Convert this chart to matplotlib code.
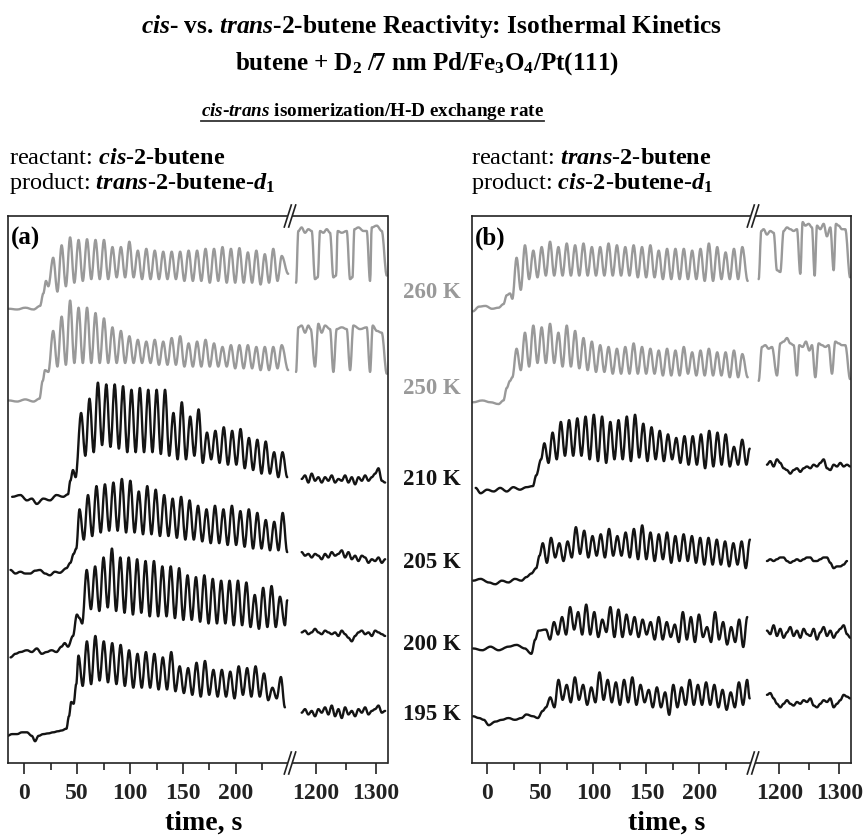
import matplotlib
matplotlib.use("Agg")
import matplotlib.pyplot as plt
from matplotlib.lines import Line2D
from matplotlib.patches import Polygon, PathPatch
from matplotlib.path import Path

plt.rcParams['font.family'] = 'Liberation Serif'
plt.rcParams['mathtext.fontset'] = 'custom'
plt.rcParams['mathtext.rm'] = 'Liberation Serif:bold'
plt.rcParams['mathtext.it'] = 'Liberation Serif:italic:bold'
plt.rcParams['mathtext.bf'] = 'Liberation Serif:bold'

# ---------------- panel (a): reactant cis-2-butene ----------------
# signal in arbitrary units, traces stacked; time in s
a260_pre_t = [-14.6, -6.8, 0.9, 8.7, 14.9, 18.0, 20.5, 22.7]
a260_pre_v = [1272, 1270, 1275, 1270, 1280, 1315, 1350, 1335]
a260_osc = [27.3, 8.0]   # first peak time, period
a260_peak = [1415, 1450, 1472, 1465, 1467, 1465, 1465, 1445, 1445, 1460, 1435, 1440, 1435, 1432,
             1432, 1432, 1435, 1435, 1440, 1440, 1445, 1440, 1442, 1430, 1435, 1425, 1440, 1420]
a260_trough = [1320, 1335, 1345, 1350, 1355, 1355, 1355, 1360, 1360, 1360, 1355, 1355, 1355, 1355,
               1355, 1350, 1350, 1350, 1345, 1350, 1345, 1345, 1345, 1345, 1340, 1345, 1350]
a260_tail_t = [249.4]
a260_tail_v = [1370]
a260_post_t = [1166.7, 1170.6, 1176.0, 1181.7, 1187.2, 1192.8, 1198.3, 1202.8, 1206.7, 1212.2,
               1217.8, 1223.3, 1228.9, 1233.3, 1236.1, 1242.8, 1251.1, 1256.7, 1260.6, 1263.9,
               1270.6, 1278.9, 1284.4, 1290.0, 1292.8, 1301.1, 1309.4, 1317.8]
a260_post_v = [1345, 1490, 1500, 1485, 1495, 1490, 1355, 1360, 1490, 1485, 1495, 1485, 1360, 1365,
               1490, 1485, 1490, 1355, 1360, 1495, 1500, 1490, 1490, 1350, 1500, 1505, 1490, 1365]

a250_pre_t = [-14.6, -6.8, 0.9, 8.7, 14.3, 17.4, 19.6, 22.7]
a250_pre_v = [1015, 1012, 1018, 1012, 1020, 1070, 1100, 1095]
a250_osc = [27.3, 8.0]
a250_peak = [1210, 1250, 1295, 1275, 1275, 1260, 1245, 1220, 1210, 1195, 1185, 1180, 1185, 1180,
             1190, 1195, 1175, 1180, 1185, 1175, 1165, 1170, 1170, 1170, 1165, 1165, 1165, 1170]
a250_trough = [1110, 1115, 1120, 1120, 1120, 1120, 1120, 1120, 1120, 1120, 1120, 1120, 1115, 1115,
               1115, 1110, 1110, 1110, 1110, 1110, 1110, 1105, 1105, 1105, 1100, 1100, 1105]
a250_tail_t = [249.4]
a250_tail_v = [1100]
a250_post_t = [1166.7, 1170.6, 1176.0, 1181.7, 1187.2, 1191.1, 1198.3, 1203.9, 1209.4, 1215.0,
               1223.3, 1228.9, 1234.4, 1242.8, 1251.1, 1256.7, 1262.2, 1273.3, 1284.4, 1290.0,
               1294.4, 1301.1, 1309.4, 1317.8]
a250_post_v = [1095, 1220, 1225, 1205, 1225, 1215, 1110, 1230, 1205, 1225, 1215, 1095, 1215, 1220,
               1215, 1100, 1225, 1215, 1220, 1095, 1225, 1210, 1205, 1090]

a210_pre_t = [-11.5, -3.7, 2.5, 7.1, 11.8, 18.0, 24.2, 30.4, 36.7, 41.3, 43.5, 46.0, 48.5]
a210_pre_v = [745, 750, 735, 740, 725, 740, 735, 750, 745, 752, 790, 820, 800]
a210_osc = [53.7, 7.93]
a210_peak = [980, 1020, 1065, 1060, 1060, 1055, 1045, 1050, 1045, 1045, 1045, 980, 1010, 970, 990,
             925, 930, 940, 930, 935, 910, 905, 900, 870, 870]
a210_trough = [860, 870, 890, 885, 880, 870, 870, 870, 870, 865, 860, 850, 850, 860, 840, 850, 840,
               835, 835, 825, 820, 810, 810, 800]
a210_tail_t = [248.5]
a210_tail_v = [800]
a210_post_v = [795, 805, 785, 810, 790, 800, 785, 800, 790, 805, 785, 795, 790, 805, 785, 800, 780,
               800, 790, 805, 790, 800, 810, 825, 790, 785]

a205_pre_t = [-13.0, -8.4, -3.7, 0.9, 5.6, 10.2, 14.9, 19.6, 24.2, 28.9, 33.5, 39.8, 43.5, 46.6, 49.1]
a205_pre_v = [540, 530, 535, 530, 530, 538, 540, 530, 525, 535, 532, 545, 560, 585, 600]
a205_osc = [52.2, 8.0]
a205_peak = [710, 750, 775, 780, 785, 795, 790, 760, 775, 765, 750, 740, 745, 735, 720, 710, 720,
             710, 720, 705, 710, 700, 680, 675, 700]
a205_trough = [625, 635, 645, 650, 650, 645, 645, 640, 640, 635, 635, 630, 625, 625, 620, 615, 615,
               610, 610, 605, 600, 600, 595, 595]
a205_tail_t = [248.5]
a205_tail_v = [590]
a205_post_v = [590, 580, 585, 575, 585, 580, 570, 585, 575, 590, 580, 585, 595, 575, 590, 570, 580,
               565, 580, 575, 560, 570, 565, 575, 560, 570]

a200_pre_t = [-13.0, -8.4, -3.7, 2.5, 7.1, 11.8, 16.5, 21.1, 25.8, 30.4, 35.1, 38.2, 41.3, 46.0,
              49.7, 52.2, 54.7]
a200_pre_v = [295, 305, 310, 315, 310, 320, 305, 310, 315, 310, 325, 335, 325, 355, 415, 405, 390]
a200_osc = [59.0, 7.94]
a200_peak = [540, 550, 575, 600, 575, 575, 570, 565, 565, 550, 550, 545, 525, 520, 525, 515, 510,
             510, 510, 505, 470, 490, 495, 465]
a200_trough = [430, 425, 435, 425, 420, 415, 420, 410, 410, 410, 405, 400, 400, 395, 390, 390, 390,
               385, 385, 380, 375, 380, 380]
a200_tail_t = [246.3, 248.5]
a200_tail_v = [385, 455]
a200_post_v = [365, 370, 360, 365, 375, 365, 360, 370, 365, 360, 365, 355, 370, 360, 350, 340, 355,
               365, 370, 360, 365, 355, 370, 365, 360, 355]

a195_pre_t = [-16.2, -11.5, -6.8, -2.2, 2.5, 7.1, 10.2, 13.4, 18.0, 22.7, 27.3, 32.0, 35.1, 39.8,
              42.2, 44.4, 46.6, 49.1]
a195_pre_v = [75, 80, 80, 85, 85, 75, 60, 75, 80, 82, 85, 88, 90, 95, 130, 170, 165, 220]
a195_osc = [51.2, 7.97]
a195_peak = [300, 340, 355, 340, 335, 330, 315, 305, 310, 305, 295, 310, 270, 265, 280, 285, 260,
             260, 255, 270, 265, 270, 250, 210, 240]
a195_trough = [215, 220, 230, 225, 220, 215, 210, 210, 210, 205, 205, 200, 195, 190, 185, 190, 185,
               185, 180, 190, 185, 185, 175, 180]
a195_tail_t = [246.3]
a195_tail_v = [155]
a195_post_v = [140, 150, 135, 145, 130, 150, 140, 155, 135, 160, 130, 150, 125, 155, 135, 145, 130,
               150, 140, 155, 135, 145, 150, 160, 140, 145]

# ---------------- panel (b): reactant trans-2-butene ----------------
b260_pre_t = [-13.6, -8.0, -1.9, 4.3, 10.5, 15.1, 18.2, 21.3, 23.5]
b260_pre_v = [1265, 1278, 1280, 1272, 1275, 1285, 1310, 1315, 1300]
b260_osc = [27.5, 7.89]
b260_peak = [1415, 1450, 1435, 1445, 1460, 1445, 1455, 1450, 1455, 1445, 1445, 1455, 1450, 1445,
             1450, 1445, 1450, 1435, 1440, 1440, 1440, 1435, 1440, 1455, 1445, 1430, 1440, 1445]
b260_trough = [1325, 1355, 1360, 1365, 1365, 1365, 1365, 1365, 1365, 1365, 1365, 1365, 1365, 1365,
               1360, 1360, 1360, 1355, 1355, 1355, 1355, 1355, 1350, 1350, 1355, 1355, 1355]
b260_tail_t = [245.6]
b260_tail_v = [1350]
b260_post_t = [1165.6, 1170.0, 1173.9, 1179.4, 1185.0, 1190.6, 1196.1, 1201.7, 1207.2, 1212.8,
               1218.3, 1223.9, 1229.4, 1235.0, 1238.9, 1243.3, 1248.9, 1254.4, 1258.9, 1262.8,
               1268.3, 1273.9, 1279.4, 1285.0, 1290.6, 1294.4, 1298.9, 1304.4, 1310.0, 1318.0]
b260_post_v = [1355, 1490, 1495, 1480, 1490, 1485, 1380, 1375, 1490, 1500, 1495, 1490, 1495, 1370,
               1515, 1505, 1510, 1500, 1365, 1505, 1495, 1510, 1475, 1500, 1380, 1510, 1505, 1495,
               1495, 1360]

b250_pre_t = [-13.6, -4.9, 2.8, 10.5, 15.1, 18.2, 21.3, 23.5]
b250_pre_v = [1010, 1015, 1010, 1005, 1015, 1050, 1070, 1080]
b250_osc = [27.5, 7.89]
b250_peak = [1160, 1205, 1225, 1220, 1230, 1205, 1225, 1210, 1190, 1180, 1170, 1165, 1160, 1165,
             1175, 1165, 1160, 1155, 1160, 1155, 1165, 1150, 1155, 1160, 1150, 1150, 1155, 1145]
b250_trough = [1100, 1110, 1120, 1120, 1120, 1110, 1110, 1105, 1100, 1095, 1095, 1090, 1090, 1090,
               1090, 1090, 1090, 1085, 1085, 1085, 1090, 1085, 1085, 1085, 1085, 1080, 1080]
b250_tail_t = [245.6]
b250_tail_v = [1080]
b250_post_t = [1165.6, 1171.1, 1176.7, 1182.2, 1187.8, 1196.1, 1201.7, 1207.2, 1212.8, 1218.3,
               1223.9, 1229.4, 1233.3, 1238.9, 1244.4, 1250.0, 1254.4, 1260.0, 1265.6, 1271.1,
               1276.7, 1282.2, 1287.8, 1293.3, 1298.9, 1304.4, 1310.0, 1318.0]
b250_post_v = [1070, 1165, 1170, 1160, 1165, 1085, 1175, 1180, 1190, 1175, 1170, 1085, 1170, 1165,
               1180, 1155, 1170, 1080, 1175, 1170, 1165, 1170, 1090, 1180, 1175, 1170, 1170, 1075]

b210_pre_t = [-11.1, -6.5, -0.3, 5.9, 12.0, 18.2, 24.4, 30.6, 36.7, 42.9, 46.0, 50.6]
b210_pre_v = [770, 755, 765, 760, 770, 760, 772, 765, 772, 775, 805, 850]
b210_osc = [53.7, 7.78]
b210_peak = [895, 925, 955, 960, 965, 970, 975, 970, 955, 960, 970, 975, 950, 940, 930, 920, 910,
             915, 915, 920, 930, 925, 920, 885, 905]
b210_trough = [840, 850, 860, 860, 860, 850, 845, 840, 850, 850, 845, 855, 845, 850, 845, 850, 840,
               835, 835, 825, 830, 835, 830, 835]
b210_tail_t = [244.4, 247.5]
b210_tail_v = [835, 880]
b210_post_v = [835, 845, 830, 850, 840, 825, 820, 810, 820, 825, 815, 825, 830, 825, 835, 830, 840,
               850, 825, 820, 835, 830, 840, 830, 835, 830]

b205_pre_t = [-13.6, -6.5, 1.2, 7.4, 13.6, 19.8, 25.9, 32.1, 36.7, 41.4, 46.0, 49.1]
b205_pre_v = [510, 515, 505, 500, 510, 505, 515, 510, 520, 530, 545, 580]
b205_osc = [52.2, 7.82]
b205_peak = [615, 630, 615, 620, 660, 650, 635, 640, 655, 635, 645, 655, 665, 645, 640, 645, 635,
             640, 635, 630, 630, 625, 620, 615, 620, 625]
b205_trough = [560, 575, 565, 575, 585, 575, 580, 575, 580, 580, 575, 570, 570, 565, 570, 560, 565,
               565, 560, 555, 555, 555, 550, 555, 545]
b205_tail_t = []
b205_tail_v = []
b205_post_v = [565, 570, 565, 570, 575, 575, 565, 560, 565, 570, 565, 570, 575, 575, 565, 565, 570,
               575, 575, 560, 545, 550, 550, 555, 565]

b200_pre_t = [-13.6, -4.9, 2.8, 10.5, 19.8, 27.5, 35.2, 41.4, 45.1, 48.1]
b200_pre_v = [320, 315, 325, 315, 325, 330, 320, 305, 345, 370]
b200_osc = [55.2, 7.6]
b200_peak = [373, 394, 408, 436, 422, 443, 422, 401, 436, 429, 415, 408, 401, 394, 408, 394, 387,
             422, 408, 415, 380, 422, 394, 380, 401, 408]
b200_trough = [345, 359, 359, 373, 359, 359, 352, 366, 352, 352, 359, 352, 359, 345, 345, 352, 338,
               345, 338, 352, 338, 345, 331, 338, 324]
b200_tail_t = []
b200_tail_v = []
b200_post_v = [370, 360, 385, 355, 375, 350, 365, 380, 355, 370, 350, 375, 360, 355, 375, 345, 365,
               380, 355, 370, 350, 365, 375, 385, 360, 350]

b195_pre_t = [-13.6, -8.0, -3.4, 1.2, 7.4, 13.6, 19.8, 25.9, 32.1, 36.7, 42.9, 47.5, 52.2, 55.2]
b195_pre_v = [130, 125, 120, 105, 115, 120, 125, 120, 125, 135, 130, 125, 145, 155]
b195_osc = [59.3, 7.74]
b195_peak = [183, 232, 218, 239, 218, 211, 253, 232, 225, 232, 239, 218, 204, 211, 197, 218, 211,
             232, 218, 225, 218, 204, 197, 225, 232]
b195_trough = [155, 176, 169, 176, 162, 169, 176, 169, 162, 169, 162, 169, 155, 155, 134, 155, 162,
               162, 162, 162, 155, 148, 155, 162]
b195_tail_t = [247.5]
b195_tail_v = [180]
b195_post_v = [190, 195, 180, 165, 155, 165, 175, 165, 160, 170, 165, 175, 170, 180, 160, 155, 165,
               175, 170, 180, 155, 165, 175, 190, 185, 180]

temps = ['260 K', '250 K', '210 K', '205 K', '200 K', '195 K']
post_grid = [[1176.1, 5.56], [1179.4, 5.56]]  # noisy long-time segments: start, step

GRAY = '#999999'
BLACK = '#141414'

# table of traces built from the arrays above
panel_a = [
    (a260_pre_t, a260_pre_v, a260_osc, a260_peak, a260_trough, a260_tail_t, a260_tail_v, a260_post_t, a260_post_v, GRAY),
    (a250_pre_t, a250_pre_v, a250_osc, a250_peak, a250_trough, a250_tail_t, a250_tail_v, a250_post_t, a250_post_v, GRAY),
    (a210_pre_t, a210_pre_v, a210_osc, a210_peak, a210_trough, a210_tail_t, a210_tail_v, None, a210_post_v, BLACK),
    (a205_pre_t, a205_pre_v, a205_osc, a205_peak, a205_trough, a205_tail_t, a205_tail_v, None, a205_post_v, BLACK),
    (a200_pre_t, a200_pre_v, a200_osc, a200_peak, a200_trough, a200_tail_t, a200_tail_v, None, a200_post_v, BLACK),
    (a195_pre_t, a195_pre_v, a195_osc, a195_peak, a195_trough, a195_tail_t, a195_tail_v, None, a195_post_v, BLACK),
]
panel_b = [
    (b260_pre_t, b260_pre_v, b260_osc, b260_peak, b260_trough, b260_tail_t, b260_tail_v, b260_post_t, b260_post_v, GRAY),
    (b250_pre_t, b250_pre_v, b250_osc, b250_peak, b250_trough, b250_tail_t, b250_tail_v, b250_post_t, b250_post_v, GRAY),
    (b210_pre_t, b210_pre_v, b210_osc, b210_peak, b210_trough, b210_tail_t, b210_tail_v, None, b210_post_v, BLACK),
    (b205_pre_t, b205_pre_v, b205_osc, b205_peak, b205_trough, b205_tail_t, b205_tail_v, None, b205_post_v, BLACK),
    (b200_pre_t, b200_pre_v, b200_osc, b200_peak, b200_trough, b200_tail_t, b200_tail_v, None, b200_post_v, BLACK),
    (b195_pre_t, b195_pre_v, b195_osc, b195_peak, b195_trough, b195_tail_t, b195_tail_v, None, b195_post_v, BLACK),
]


def build_early(pre_t, pre_v, osc, peaks, troughs, tail_t, tail_v):
    t = list(pre_t)
    v = list(pre_v)
    t0, per = osc
    for i, p in enumerate(peaks):
        t.append(t0 + i * per)
        v.append(p)
        if i < len(troughs):
            t.append(t0 + (i + 0.5) * per)
            v.append(troughs[i])
    return t + list(tail_t), v + list(tail_v)


# draw a trace as a smooth curve through the read points (flat tangent at each point)
def smooth_line(ax, t, v, col, lw=1.7, c=0.36):
    verts = [(t[0], v[0])]
    codes = [Path.MOVETO]
    for i in range(1, len(t)):
        dt = t[i] - t[i - 1]
        verts += [(t[i - 1] + c * dt, v[i - 1]), (t[i] - c * dt, v[i]), (t[i], v[i])]
        codes += [Path.CURVE4] * 3
    ax.add_patch(PathPatch(Path(verts, codes), fill=False, edgecolor=col, lw=lw,
                           joinstyle='round', capstyle='round'))


W, H = 865.0, 837.0
def fx(x):
    return x / W
def fy(y):
    return 1 - y / H

fig = plt.figure(figsize=(8.65, 8.37), dpi=100)

BOX_TOP, BOX_BOT = 217, 764
layout = [
    dict(x0=8, xb=292, x1=387.5, lim_l=(-15.4, 253), lim_r=(1160, 1319), tag='(a)', tx=204),
    dict(x0=472.3, xb=755, x1=850.7, lim_l=(-14.3, 252.5), lim_r=(1159.5, 1319), tag='(b)', tx=667),
]

for k, (lay, traces) in enumerate(zip(layout, [panel_a, panel_b])):
    hgt = (BOX_BOT - BOX_TOP) / H
    axL = fig.add_axes([fx(lay['x0']), fy(BOX_BOT), (lay['xb'] - lay['x0']) / W, hgt])
    axR = fig.add_axes([fx(lay['xb']), fy(BOX_BOT), (lay['x1'] - lay['xb']) / W, hgt])
    for ax in (axL, axR):
        ax.set_ylim(-1, 1532)
        ax.set_yticks([])
        ax.set_facecolor('none')
        for s in ax.spines.values():
            s.set_linewidth(1.2)
            s.set_color('#222222')
        ax.tick_params(axis='x', which='major', direction='out', length=8, width=1.2,
                       labelsize=17, pad=6, colors='#222222')
        ax.tick_params(axis='x', which='minor', direction='out', length=5, width=1.2,
                       colors='#222222')
    axL.spines['right'].set_visible(False)
    axR.spines['left'].set_visible(False)
    axL.set_xlim(*lay['lim_l'])
    axR.set_xlim(*lay['lim_r'])
    axL.set_xticks([0, 50, 100, 150, 200])
    axL.set_xticks([25, 75, 125, 175, 225], minor=True)
    axR.set_xticks([1200, 1300])
    axR.set_xticks([1250], minor=True)
    for ax in (axL, axR):
        for lab in ax.get_xticklabels():
            lab.set_fontweight('bold')

    start, step = post_grid[k]
    for (pre_t, pre_v, osc, pk, tr, tt, tv, post_t, post_v, col) in traces:
        et, ev = build_early(pre_t, pre_v, osc, pk, tr, tt, tv)
        smooth_line(axL, et, ev, col)
        if post_t is None:
            post_t = [start + i * step for i in range(len(post_v))]
        smooth_line(axR, post_t, post_v, col)

    # break marks on top and bottom spines
    for ys in (BOX_TOP, BOX_BOT):
        xb = lay['xb']
        pts = []
        for o in (-2.2, 2.2):
            p1 = (fx(xb - 5.5 + o), fy(ys + 11))
            p2 = (fx(xb + 1.5 + o), fy(ys - 11))
            pts.append((p1, p2))
        poly = Polygon([pts[0][0], pts[0][1], pts[1][1], pts[1][0]], closed=True,
                       transform=fig.transFigure, facecolor='white', edgecolor='none', zorder=5)
        fig.add_artist(poly)
        for p1, p2 in pts:
            fig.add_artist(Line2D([p1[0], p2[0]], [p1[1], p2[1]], transform=fig.transFigure,
                                  color='#222222', lw=1.2, zorder=6))

    fig.text(fx(lay['x0'] + 3), fy(238), lay['tag'], fontsize=18, fontweight='bold',
             ha='left', va='center')
    fig.text(fx(lay['tx']), fy(823), 'time, s', fontsize=20, fontweight='bold',
             ha='center', va='center')

# panel headers
hdr = dict(fontsize=17.5, ha='left', va='center')
fig.text(fx(9), fy(158), r'reactant: $\mathit{cis}$-$\mathit{2}$-$\mathbf{butene}$', **hdr)
fig.text(fx(9), fy(184), r'product: $\mathit{trans}$-$\mathit{2}$-$\mathbf{butene}$-$\mathit{d_1}$', **hdr)
fig.text(fx(471), fy(158), r'reactant: $\mathit{trans}$-$\mathit{2}$-$\mathbf{butene}$', **hdr)
fig.text(fx(471), fy(184), r'product: $\mathit{cis}$-$\mathit{2}$-$\mathbf{butene}$-$\mathit{d_1}$', **hdr)

# temperature labels between the panels
label_y = [292, 388, 480, 562, 645, 715]
for lab, yy in zip(temps, label_y):
    col = GRAY if lab in ('260 K', '250 K') else BLACK
    fig.text(fx(432), fy(yy), lab, fontsize=16.5, fontweight='bold', color=col,
             ha='center', va='center')

# titles
fig.text(fx(431), fy(26), r'$\mathit{cis}$- vs. $\mathit{trans}$-2-butene Reactivity: Isothermal Kinetics',
         fontsize=18.3, fontweight='bold', ha='center', va='center')
fig.text(fx(427), fy(64), r'butene + D$_2$ /7 nm Pd/Fe$_3$O$_4$/Pt(111)',
         fontsize=18, fontweight='bold', ha='center', va='center')
t3 = fig.text(fx(201), fy(112), r'$\mathit{cis}$-$\mathit{trans}$ isomerization/H-D exchange rate',
              fontsize=13.8, fontweight='bold', ha='left', va='center')

fig.canvas.draw()
bb = t3.get_window_extent(fig.canvas.get_renderer())
fig.add_artist(Line2D([bb.x0 / W, bb.x1 / W], [(bb.y0 + 1) / H, (bb.y0 + 1) / H],
                      transform=fig.transFigure, color='#333333', lw=1.3))

fig.savefig('out.png', dpi=100)
